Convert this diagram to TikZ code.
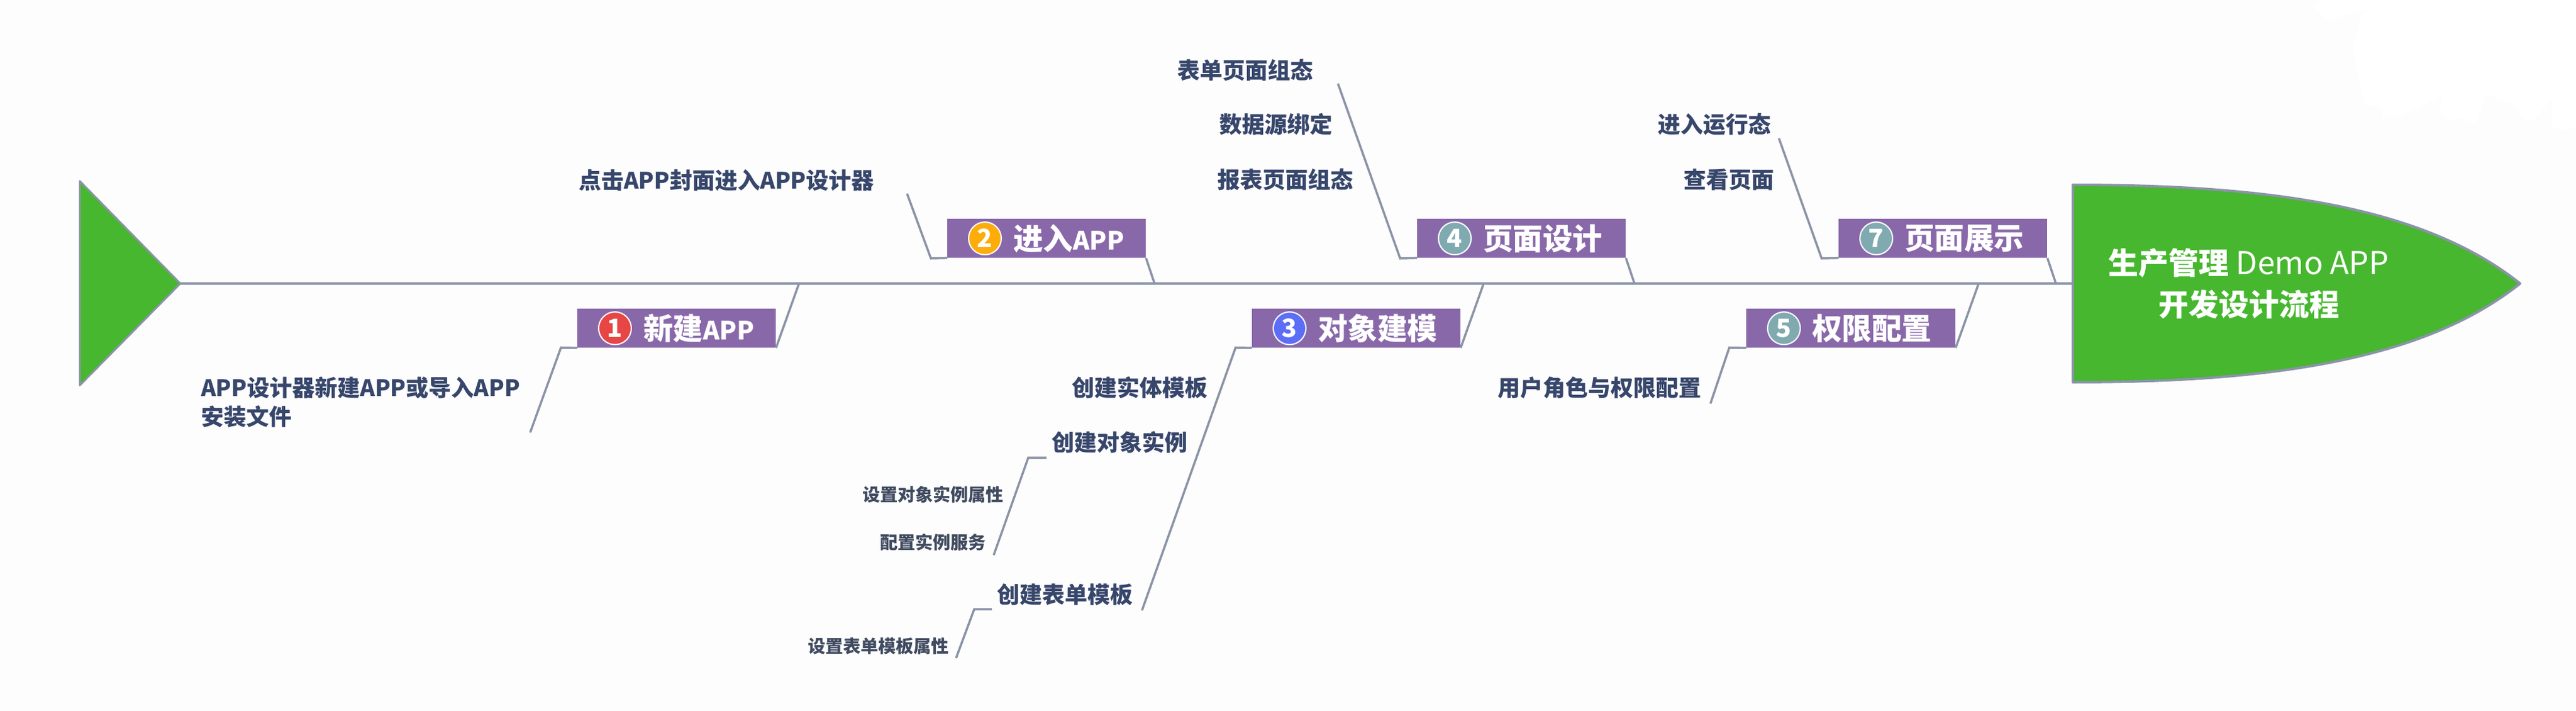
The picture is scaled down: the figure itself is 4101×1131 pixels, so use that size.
\documentclass[tikz,border=0pt]{standalone}
\usepackage{fontspec}
\setmainfont{Noto Sans CJK SC}
\usetikzlibrary{positioning}
\definecolor{purplebox}{HTML}{8968AA}
\definecolor{fishgreen}{HTML}{46B72E}
\definecolor{boneline}{HTML}{8A94A6}
\definecolor{labeltext}{HTML}{37466B}
\definecolor{smalltext}{HTML}{404B60}
\definecolor{paper}{HTML}{FDFDFD}
\definecolor{badgered}{HTML}{E84545}
\definecolor{badgeorange}{HTML}{FDAC0A}
\definecolor{badgeblue}{HTML}{5B6EF5}
\definecolor{badgeteal}{HTML}{7FAAB0}
\newcommand{\stageapp}{{\fontsize{40}{40}\selectfont APP}}

\begin{document}
\begin{tikzpicture}[
x = 1pt, y = -1pt,
stagebox/.style = {fill = purplebox, minimum height = 62pt, inner sep = 0, anchor = north west},
badge/.style = {circle, draw = white, line width = 2pt, inner sep = 0, minimum size = 52pt, text = white,
  font = \fontsize{40}{40}\selectfont\bfseries},
stagetext/.style = {text = white, inner sep = 0, font = \fontsize{47.5}{47.5}\selectfont\bfseries},
item/.style = {text = labeltext, inner sep = 0, font = \fontsize{36}{36}\selectfont\bfseries},
subitem/.style = {text = smalltext, inner sep = 0, font = \fontsize{28}{28}\selectfont\bfseries},
bone/.style = {draw = boneline, line width = 3.5pt}]

\fill[paper] (0, 0) rectangle (4101, 1131);
\fill[white] (3683, 10) -- (3705, 33) -- (3767, 15) -- (3757, 30) -- (3745, 79) -- (3765, 168)
  -- (3790, 170) -- (3793, 185) -- (3820, 185) -- (3887, 153) -- (3885, 177) -- (3902, 194)
  -- (3913, 187) -- (3942, 197) -- (3958, 150) -- (3998, 164) -- (4023, 195) -- (4037, 188)
  -- (4063, 155) -- (4062, 202) -- (4083, 207) -- (4101, 200) -- (4101, 0) -- (3700, 0) -- cycle;

\coordinate (tail) at (287, 451);
\coordinate (neck) at (3300, 451);

\draw[boneline, line width = 3pt, fill = fishgreen, line join = round] (127, 288) -- (tail) -- (127, 613) -- cycle;
\draw[boneline, line width = 4pt, fill = fishgreen, line join = round] (3300, 294)
  .. controls (3620, 294) and (3860, 330) .. (4012, 451)
  .. controls (3860, 572) and (3620, 608) .. (3300, 608) -- cycle;
\draw[bone, line width = 4.5pt] (tail) -- (neck);

\node[text = white, align = center, font = \fontsize{48}{66}\selectfont] (headtext) at (3580, 451)
  {\textbf{生产管理} {\fontsize{50}{66}\selectfont Demo APP}\\\textbf{开发设计流程}};

% stage boxes
\node[stagebox, minimum width = 316pt] (new) at (919, 491) {};
\node[stagebox, minimum width = 316pt] (enter) at (1508, 348) {};
\node[stagebox, minimum width = 332pt] (model) at (1993, 491) {};
\node[stagebox, minimum width = 332pt] (design) at (2256, 348) {};
\node[stagebox, minimum width = 333pt] (auth) at (2780, 491) {};
\node[stagebox, minimum width = 332pt] (show) at (2927, 348) {};

\node[badge, fill = badgered] (new num) at ([xshift = 60pt]new.west) {1};
\node[badge, fill = badgeorange] (enter num) at ([xshift = 60pt]enter.west) {2};
\node[badge, fill = badgeblue] (model num) at ([xshift = 60pt]model.west) {3};
\node[badge, fill = badgeteal] (design num) at ([xshift = 60pt]design.west) {4};
\node[badge, fill = badgeteal] (auth num) at ([xshift = 60pt]auth.west) {5};
\node[badge, fill = badgeteal] (show num) at ([xshift = 60pt]show.west) {7};

\node[stagetext, right = 18pt of new num] (new text) {新建\stageapp};
\node[stagetext, right = 18pt of enter num] (enter text) {进入\stageapp};
\node[stagetext, right = 18pt of model num] (model text) {对象建模};
\node[stagetext, right = 18pt of design num] (design text) {页面设计};
\node[stagetext, right = 18pt of auth num] (auth text) {权限配置};
\node[stagetext, right = 18pt of show num] (show text) {页面展示};

% labels
\node[item, anchor = west, align = left, font = \fontsize{36}{46}\selectfont\bfseries] (import) at (320, 640)
  {APP设计器新建APP或导入APP\\安装文件};
\node[item, anchor = west] (cover) at (921, 287) {点击APP封面进入APP设计器};
\node[item, anchor = east] (entity) at (1923, 617) {创建实体模板};
\node[item, anchor = east] (instance) at (1891, 704) {创建对象实例};
\node[item, anchor = east] (form) at (1804, 946) {创建表单模板};
\node[subitem, anchor = east] (instance attr) at (1598, 787) {设置对象实例属性};
\node[subitem, anchor = east] (instance svc) at (1570, 863) {配置实例服务};
\node[subitem, anchor = east] (form attr) at (1511, 1028) {设置表单模板属性};
\node[item, anchor = east] (form page) at (2091, 112) {表单页面组态};
\node[item, anchor = east] (source) at (2122, 198) {数据源绑定};
\node[item, anchor = east] (report) at (2155, 286) {报表页面组态};
\node[item, anchor = east] (role) at (2709, 617) {用户角色与权限配置};
\node[item, anchor = east] (runtime) at (2820, 198) {进入运行态};
\node[item, anchor = east] (view) at (2825, 286) {查看页面};

% bones
\coordinate (new root) at (1272, 451);
\coordinate (new elbow) at (893, 553);
\coordinate (new end) at (844, 688);
\coordinate (enter root) at (1838, 451);
\coordinate (enter elbow) at (1482, 411);
\coordinate (enter end) at (1444, 308);
\coordinate (model root) at (2362, 451);
\coordinate (model elbow) at (1967, 553);
\coordinate (model end) at (1818, 971);
\coordinate (design root) at (2602, 451);
\coordinate (design elbow) at (2229, 411);
\coordinate (design end) at (2130, 133);
\coordinate (auth root) at (3150, 451);
\coordinate (auth elbow) at (2753, 553);
\coordinate (auth end) at (2723, 642);
\coordinate (show root) at (3273, 451);
\coordinate (show elbow) at (2900, 411);
\coordinate (show end) at (2832, 220);
\coordinate (instance elbow) at (1637, 728);
\coordinate (instance start) at (1666, 728);
\coordinate (instance end) at (1582, 883);
\coordinate (form elbow) at (1551, 969);
\coordinate (form start) at (1579, 969);
\coordinate (form end) at (1522, 1047);

\draw[bone] (new.south east) -- (new root);
\draw[bone] (new.south west) -- (new elbow) -- (new end);
\draw[bone] (enter.south east) -- (enter root);
\draw[bone] (enter.south west) -- (enter elbow) -- (enter end);
\draw[bone] (model.south east) -- (model root);
\draw[bone] (model.south west) -- (model elbow) -- (model end);
\draw[bone] (design.south east) -- (design root);
\draw[bone] (design.south west) -- (design elbow) -- (design end);
\draw[bone] (auth.south east) -- (auth root);
\draw[bone] (auth.south west) -- (auth elbow) -- (auth end);
\draw[bone] (show.south east) -- (show root);
\draw[bone] (show.south west) -- (show elbow) -- (show end);
\draw[bone] (instance start) -- (instance elbow) -- (instance end);
\draw[bone] (form start) -- (form elbow) -- (form end);

\end{tikzpicture}
\end{document}
